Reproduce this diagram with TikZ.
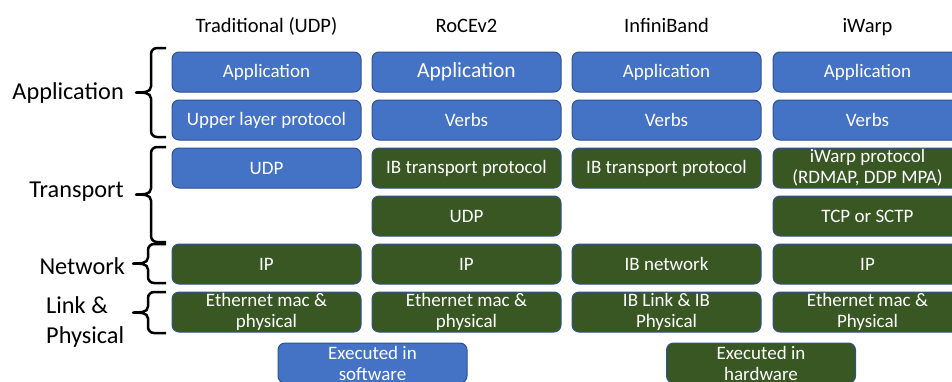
\documentclass[tikz,border=0pt]{standalone}
\usepackage{fontspec}
\setmainfont{Carlito}
\definecolor{swblue}{HTML}{4472C4}
\definecolor{hwgreen}{HTML}{385723}
\definecolor{edgeblue}{HTML}{2F528F}
\newcommand\boxfont{\fontsize{19}{21}\selectfont}
\newcommand\bigboxfont{\fontsize{21.5}{24}\selectfont}
\newcommand\headfont{\fontsize{20.5}{25}\selectfont}
\newcommand\labelfont{\fontsize{24.3}{29.5}\selectfont}
% curly brace grouping the rows of one layer: top y, bottom y, stem x
\newcommand\layerbrace[3]{%
  \pgfmathsetmacro\bmid{(#1+#2)/2}%
  \pgfmathsetmacro\bcusp{#3-15}%
  \draw[bracepen] (166,-#1) -- (#3+6,-#1) to[out=180,in=90] (#3,-#1-6)
    -- (#3,-\bmid+6) to[out=-90,in=0] (\bcusp,-\bmid)
    to[out=0,in=90] (#3,-\bmid-6) -- (#3,-#2+6)
    to[out=-90,in=180] (#3+6,-#2) -- (166,-#2);}
\tikzset{
  layerbox/.style={rounded corners=7pt, draw=edgeblue, line width=1pt,
    minimum width=189pt, minimum height=40pt, inner sep=0pt,
    text=white, align=center, font=\boxfont},
  sw/.style={layerbox, fill=swblue},
  hw/.style={layerbox, fill=hwgreen},
  header/.style={inner sep=0pt, font=\headfont, anchor=base},
  layerlabel/.style={inner sep=0pt, font=\labelfont, align=left},
  bracepen/.style={line width=2.5pt, line join=round}
}
\begin{document}
\begin{tikzpicture}[x=1pt,y=1pt]
\useasboundingbox (0,0) rectangle (952,-381);
\clip (0,0) rectangle (952,-381);

% column headers
\node[header] (hUDP) at (266.5,-32) {Traditional (UDP)};
\node[header] (hRoCE) at (466.5,-32) {RoCEv2};
\node[header] (hIB) at (666.5,-32) {InfiniBand};
\node[header] (hiW) at (867.5,-32) {iWarp};

% layer names and braces
\node[layerlabel, anchor=east] (lApp) at (124,-93) {Application};
\node[layerlabel, anchor=east] (lTra) at (124,-192) {Transport};
\node[layerlabel, anchor=east] (lNet) at (125,-266) {Network};
\node[layerlabel, anchor=west] (lLink) at (46,-322) {Link \&\\Physical};
\layerbrace{48}{137}{151}
\layerbrace{147}{242}{151}
\layerbrace{244}{283}{148}
\layerbrace{292}{333}{148}

% Traditional (UDP)
\node[sw] (udpApp) at (266.5,-72) {Application};
\node[sw] (udpUpper) at (266.5,-120) {Upper layer protocol};
\node[sw] (udpUdp) at (266.5,-168) {UDP};
\node[hw] (udpIp) at (266.5,-264) {IP};
\node[hw] (udpEth) at (266.5,-312) {Ethernet mac \&\\physical};

% RoCEv2
\node[sw, font=\bigboxfont] (rcApp) at (466.5,-72) {Application};
\node[sw] (rcVerbs) at (466.5,-120) {Verbs};
\node[hw] (rcIbt) at (466.5,-168) {IB transport protocol};
\node[hw] (rcUdp) at (466.5,-216) {UDP};
\node[hw] (rcIp) at (466.5,-264) {IP};
\node[hw] (rcEth) at (466.5,-312) {Ethernet mac \&\\physical};

% InfiniBand
\node[sw] (ibApp) at (666.5,-72) {Application};
\node[sw] (ibVerbs) at (666.5,-120) {Verbs};
\node[hw] (ibIbt) at (666.5,-168) {IB transport protocol};
\node[hw] (ibNet) at (666.5,-264) {IB network};
\node[hw] (ibLink) at (666.5,-312) {IB Link \& IB\\Physical};

% iWarp
\node[sw] (iwApp) at (867.5,-72) {Application};
\node[sw] (iwVerbs) at (867.5,-120) {Verbs};
\node[hw] (iwProt) at (867.5,-168) {iWarp protocol\\(RDMAP, DDP MPA)};
\node[hw] (iwTcp) at (867.5,-216) {TCP or SCTP};
\node[hw] (iwIp) at (867.5,-264) {IP};
\node[hw] (iwEth) at (867.5,-312) {Ethernet mac \&\\Physical};

% legend
\node[sw] (keySw) at (372.5,-363) {Executed in\\software};
\node[hw] (keyHw) at (761,-363) {Executed in\\hardware};
\end{tikzpicture}
\end{document}
